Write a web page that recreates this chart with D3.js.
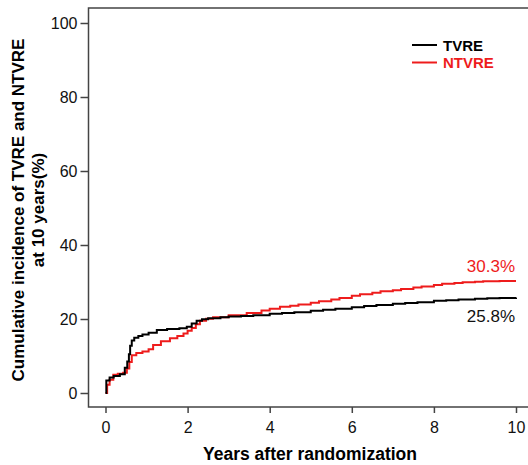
<!DOCTYPE html>
<html>
<head>
<meta charset="utf-8">
<script src="https://cdn.jsdelivr.net/npm/d3@7"></script>
<style>
  body { margin: 0; background: #fff; }
  svg { font-family: Arial, "Liberation Sans", sans-serif; }
</style>
</head>
<body>
<svg id="chart" width="528" height="465"></svg>
<script>
//data (years, cumulative %)
var tvreTime  = [0, 0.02, 0.1, 0.2, 0.35, 0.47, 0.53, 0.57, 0.6, 0.64, 0.7, 0.8, 0.9, 1.05, 1.25, 1.5, 1.8, 1.98, 2.1, 2.22, 2.35, 2.5, 2.8, 3.0, 3.3, 3.6, 4.0, 4.3, 4.6, 5.0, 5.3, 5.6, 6.0, 6.3, 6.6, 7.0, 7.3, 7.6, 8.0, 8.3, 8.6, 9.0, 9.3, 9.6, 10.0];
var tvreValue = [0, 3.4, 4.2, 4.6, 5.1, 6.8, 8.5, 10.5, 12.8, 14.2, 14.9, 15.4, 15.8, 16.3, 17.0, 17.3, 17.5, 17.9, 18.8, 19.5, 19.9, 20.2, 20.5, 20.7, 20.8, 21.0, 21.4, 21.6, 21.8, 22.2, 22.5, 22.8, 23.2, 23.5, 23.8, 24.1, 24.3, 24.5, 24.9, 25.1, 25.3, 25.5, 25.6, 25.7, 25.8];
var ntvreTime  = [0, 0.04, 0.1, 0.19, 0.3, 0.43, 0.52, 0.58, 0.64, 0.75, 0.9, 1.05, 1.16, 1.35, 1.57, 1.75, 1.9, 2.0, 2.1, 2.2, 2.3, 2.45, 2.62, 3.0, 3.44, 3.8, 4.0, 4.25, 4.5, 4.7, 5.0, 5.2, 5.5, 5.7, 6.0, 6.2, 6.5, 6.7, 7.0, 7.2, 7.5, 7.7, 8.0, 8.2, 8.5, 8.7, 9.0, 9.2, 9.6, 10.0];
var ntvreValue = [0, 2.2, 3.6, 4.9, 5.2, 5.5, 6.6, 8.4, 10.2, 10.8, 11.2, 11.8, 13.0, 14.0, 14.8, 15.4, 16.1, 16.8, 17.6, 18.6, 19.5, 20.1, 20.5, 21.0, 21.6, 22.3, 22.8, 23.3, 23.6, 23.9, 24.4, 24.8, 25.3, 25.7, 26.3, 26.7, 27.1, 27.5, 27.8, 28.1, 28.5, 28.8, 29.2, 29.5, 29.7, 29.9, 30.1, 30.2, 30.3, 30.3];

var yTicks = [0, 20, 40, 60, 80, 100];
var xTicks = [0, 2, 4, 6, 8, 10];

var svg = d3.select("#chart");

//frame of the plot area
var frameLeft = 88.5, frameTop = 8, frameBottom = 407;

var x = d3.scaleLinear().domain([0, 10]).range([105.5, 516]);
var y = d3.scaleLinear().domain([0, 100]).range([393, 23]);

var axisColor = "#444";
var font = "Arial, 'Liberation Sans', sans-serif";

//box around the plot (right edge runs off the picture)
svg.append("path")
    .attr("d", "M530," + frameTop + "H" + frameLeft + "V" + frameBottom + "H530")
    .attr("fill", "none")
    .attr("stroke", axisColor)
    .attr("stroke-width", 1.5);

//y axis
var yAxis = svg.append("g")
    .attr("transform", "translate(" + frameLeft + ",0)")
    .call(d3.axisLeft(y).tickValues(yTicks).tickSize(8).tickPadding(3));
yAxis.select(".domain").remove();
yAxis.selectAll("line").attr("stroke", axisColor).attr("stroke-width", 1.5);
yAxis.selectAll("text").attr("font-size", 16).attr("font-family", font).attr("fill", "#111");

//x axis
var xAxis = svg.append("g")
    .attr("transform", "translate(0," + frameBottom + ")")
    .call(d3.axisBottom(x).tickValues(xTicks).tickSize(6).tickPadding(9));
xAxis.select(".domain").remove();
xAxis.selectAll("line").attr("stroke", axisColor).attr("stroke-width", 1.5);
xAxis.selectAll("text").attr("font-size", 16).attr("font-family", font).attr("fill", "#111");

//axis titles
svg.append("text")
    .attr("x", 310).attr("y", 460)
    .attr("text-anchor", "middle")
    .attr("font-size", 17.5).attr("font-weight", "bold")
    .text("Years after randomization");

var yTitle = svg.append("text")
    .attr("transform", "translate(24,210) rotate(-90)")
    .attr("text-anchor", "middle")
    .attr("font-size", 17).attr("font-weight", "bold");
yTitle.append("tspan").attr("x", 0).attr("dy", 0).text("Cumulative incidence of TVRE and NTVRE");
yTitle.append("tspan").attr("x", 0).attr("dy", 20).text("at 10 years(%)");

//the two curves
var line = d3.line()
    .x(function(d) { return x(d[0]); })
    .y(function(d) { return y(d[1]); })
    .curve(d3.curveStepAfter);

var ntvre = ntvreTime.map(function(t, i) { return [t, ntvreValue[i]]; });
var tvre = tvreTime.map(function(t, i) { return [t, tvreValue[i]]; });

svg.append("path")
    .datum(ntvre)
    .attr("d", line)
    .attr("fill", "none")
    .attr("stroke", "#ee1c1c")
    .attr("stroke-width", 2);

svg.append("path")
    .datum(tvre)
    .attr("d", line)
    .attr("fill", "none")
    .attr("stroke", "#000")
    .attr("stroke-width", 2);

//end labels
svg.append("text")
    .attr("x", 515).attr("y", 272)
    .attr("text-anchor", "end")
    .attr("font-size", 17).attr("fill", "#ee1c1c")
    .text("30.3%");
svg.append("text")
    .attr("x", 515).attr("y", 322)
    .attr("text-anchor", "end")
    .attr("font-size", 17).attr("fill", "#111")
    .text("25.8%");

//legend
var legendNames = ["TVRE", "NTVRE"];
var legendColors = ["#000", "#ee1c1c"];
var legend = svg.selectAll(".legend")
    .data(legendNames)
    .enter().append("g")
    .attr("class", "legend")
    .attr("transform", function(d, i) { return "translate(412," + (45 + i * 17.5) + ")"; });
legend.append("line")
    .attr("x1", 0).attr("x2", 25)
    .attr("stroke", function(d, i) { return legendColors[i]; })
    .attr("stroke-width", 2);
legend.append("text")
    .attr("x", 31).attr("y", 5.5)
    .attr("font-size", 15).attr("font-weight", "bold")
    .attr("fill", function(d, i) { return legendColors[i]; })
    .text(function(d) { return d; });
</script>
</body>
</html>
